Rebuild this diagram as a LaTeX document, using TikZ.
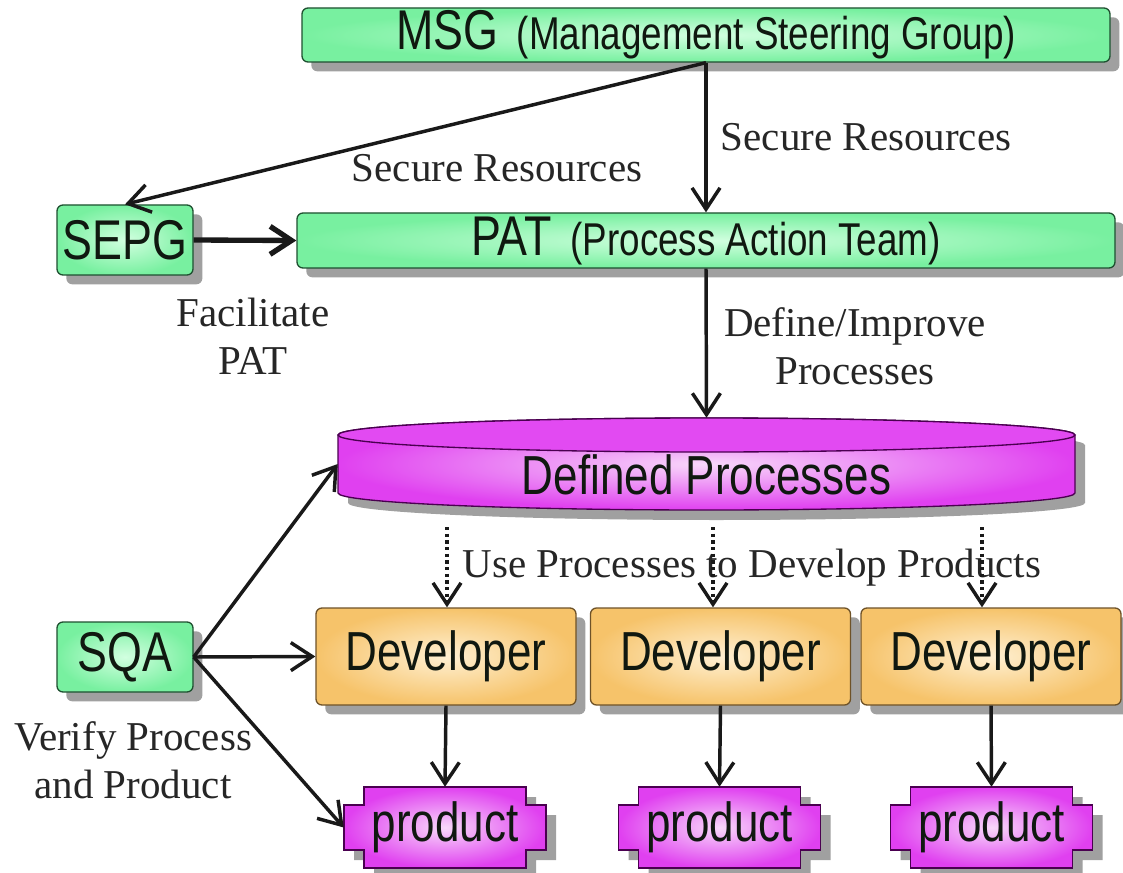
\documentclass[tikz,border=0pt]{standalone}
\usepackage{fontspec}
\setmainfont{Liberation Serif}
\newfontfamily\condsans[FakeStretch=0.8]{Liberation Sans}
\usetikzlibrary{arrows.meta,shadows,calc}
\definecolor{greenout}{HTML}{78F0A0}
\definecolor{greenin}{HTML}{D2FFE0}
\definecolor{greenbd}{HTML}{1E5030}
\definecolor{orangeout}{HTML}{F6C36A}
\definecolor{orangein}{HTML}{FFF0D2}
\definecolor{orangebd}{HTML}{6E5228}
\definecolor{magout}{HTML}{E040F0}
\definecolor{magin}{HTML}{F8D8FA}
\definecolor{magtop}{HTML}{E24AF2}
\definecolor{magbd}{HTML}{4A0050}
\definecolor{shadowc}{HTML}{A0A0A0}
\definecolor{lbltext}{HTML}{262626}
\definecolor{boxtext}{HTML}{101810}
\pgfdeclarelayer{bg}\pgfsetlayers{bg,main}
\newcommand\prodoutline[3]{($(#1)+(#2-81,#3-40.5)$) -- ($(#1)+(#2+81,#3-40.5)$) -- ($(#1)+(#2+81,#3-22.5)$) -- ($(#1)+(#2+101,#3-22.5)$) -- ($(#1)+(#2+101,#3+22.5)$) -- ($(#1)+(#2+81,#3+22.5)$) -- ($(#1)+(#2+81,#3+40.5)$) -- ($(#1)+(#2-81,#3+40.5)$) -- ($(#1)+(#2-81,#3+22.5)$) -- ($(#1)+(#2-101,#3+22.5)$) -- ($(#1)+(#2-101,#3-22.5)$) -- ($(#1)+(#2-81,#3-22.5)$) -- cycle}
\begin{document}
\begin{tikzpicture}[x=0.75pt,y=-0.75pt,
  boxbase/.style={rectangle, rounded corners=4.5pt, line width=1pt, inner sep=0pt, text=boxtext,
    drop shadow={shadow xshift=7pt, shadow yshift=-7pt, fill=shadowc, opacity=1}},
  greenbox/.style={boxbase, draw=greenbd, inner color=greenin, outer color=greenout},
  orangebox/.style={boxbase, draw=orangebd, inner color=orangein, outer color=orangeout},
  bigfont/.style={font=\condsans\fontsize{42}{42}\selectfont},
  midfont/.style={font=\condsans\fontsize{41.25}{44}\selectfont},
  lbl/.style={text=lbltext, font=\fontsize{30.75}{36}\selectfont, inner sep=0pt},
  arr/.style={line width=2.6pt, draw=black!90, -{Straight Barb[length=16pt,width=21pt]}},
  darr/.style={line width=2.6pt, draw=black!90, dash pattern=on 2.5pt off 2.5pt, -{Straight Barb[length=16pt,width=21pt]}},
  prodfill/.style={draw=magbd, line width=1pt, inner color=magin, outer color=magout},
]
\useasboundingbox (0,0) rectangle (1123,873);

% boxes
\node[greenbox, minimum width=606pt, minimum height=40.5pt] (msg) at (706,35)
  {{\condsans\fontsize{42}{42}\selectfont MSG}\hspace{14pt}{\condsans\fontsize{34.5}{36}\selectfont (Management Steering Group)}};
\node[greenbox, minimum width=613.5pt, minimum height=41.25pt] (pat) at (706,240.5)
  {{\condsans\fontsize{42}{42}\selectfont PAT}\hspace{14pt}{\condsans\fontsize{34.5}{36}\selectfont (Process Action Team)}};
\node[greenbox, bigfont, minimum width=102pt, minimum height=52.5pt] (sepg) at (125,240) {SEPG};
\node[greenbox, bigfont, minimum width=102pt, minimum height=52.5pt] (sqa) at (125,657) {SQA};

\node[orangebox, midfont, minimum width=195pt, minimum height=72.75pt] (dev1) at (446,656.5) {Developer};
\node[orangebox, midfont, minimum width=195pt, minimum height=72.75pt] (dev2) at (720.5,656.5) {Developer};
\node[orangebox, midfont, minimum width=195pt, minimum height=72.75pt] (dev3) at (991,656.5) {Developer};

% defined processes (cylinder)
\node[minimum width=552.75pt, minimum height=69pt, inner sep=0pt] (dp) at (706.5,464) {};
\node[midfont, text=boxtext, inner sep=0pt] (dptext) at (706.5,475) {Defined Processes};

% products
\node[midfont, text=boxtext, minimum width=151.5pt, minimum height=60.75pt, inner sep=0pt] (prod1) at (445,827.5) {product};
\node[midfont, text=boxtext, minimum width=151.5pt, minimum height=60.75pt, inner sep=0pt] (prod2) at (719.5,827.5) {product};
\node[midfont, text=boxtext, minimum width=151.5pt, minimum height=60.75pt, inner sep=0pt] (prod3) at (991.5,827.5) {product};

\begin{pgfonlayer}{bg}
  \begin{scope}[shift={(10,10)}]
    \fill[shadowc] (338,435) -- (338,493) arc[start angle=180, end angle=360, x radius=276.375pt, y radius=12.75pt]
      -- (1075,435) arc[start angle=0, end angle=180, x radius=276.375pt, y radius=12.75pt] -- cycle;
  \end{scope}
  \draw[prodfill] (338,435) -- (338,493) arc[start angle=180, end angle=360, x radius=276.375pt, y radius=12.75pt]
      -- (1075,435) arc[start angle=0, end angle=180, x radius=276.375pt, y radius=12.75pt] -- cycle;
  \filldraw[fill=magtop, draw=magbd, line width=1pt] (706.5,435) ellipse [x radius=276.375pt, y radius=12.75pt];
  \fill[shadowc] \prodoutline{prod1}{10}{10};
  \fill[shadowc] \prodoutline{prod2}{10}{10};
  \fill[shadowc] \prodoutline{prod3}{10}{10};
  \draw[prodfill] \prodoutline{prod1}{0}{0};
  \draw[prodfill] \prodoutline{prod2}{0}{0};
  \draw[prodfill] \prodoutline{prod3}{0}{0};
\end{pgfonlayer}

% labels
\node[lbl] (l1) at (866,137) {Secure Resources};
\node[lbl] (l2) at (497,168) {Secure Resources};
\node[lbl, align=center] (l3) at (253,336) {Facilitate\\PAT};
\node[lbl, align=center] (l4) at (855,346) {Define/Improve\\Processes};
\node[lbl] (l5) at (752,568) {Use Processes to Develop Products};
\node[lbl, align=center] (l6) at (133,760) {Verify Process\\and Product};

% connectors
\draw[arr] (msg.south) -- (pat.north);
\draw[arr] (msg.south) -- (sepg.north);
\draw[arr, line width=4pt] (sepg.east) -- (pat.west);
\draw[arr] (pat.south) -- (dp.north);
\draw[arr] (sqa.east) -- (dp.west);
\draw[arr] (sqa.east) -- (dev1.west);
\draw[arr] (sqa.east) -- (prod1.west);
\draw[arr] (dev1.south) -- (prod1.north);
\draw[arr] (dev2.south) -- (prod2.north);
\draw[arr] (dev3.south) -- (prod3.north);
\coordinate (u1) at (447,527);
\coordinate (u2) at (713,527);
\coordinate (u3) at (982,527);
\draw[darr] (u1) -- (u1 |- dev1.north);
\draw[darr] (u2) -- (u2 |- dev2.north);
\draw[darr] (u3) -- (u3 |- dev3.north);
\end{tikzpicture}
\end{document}
